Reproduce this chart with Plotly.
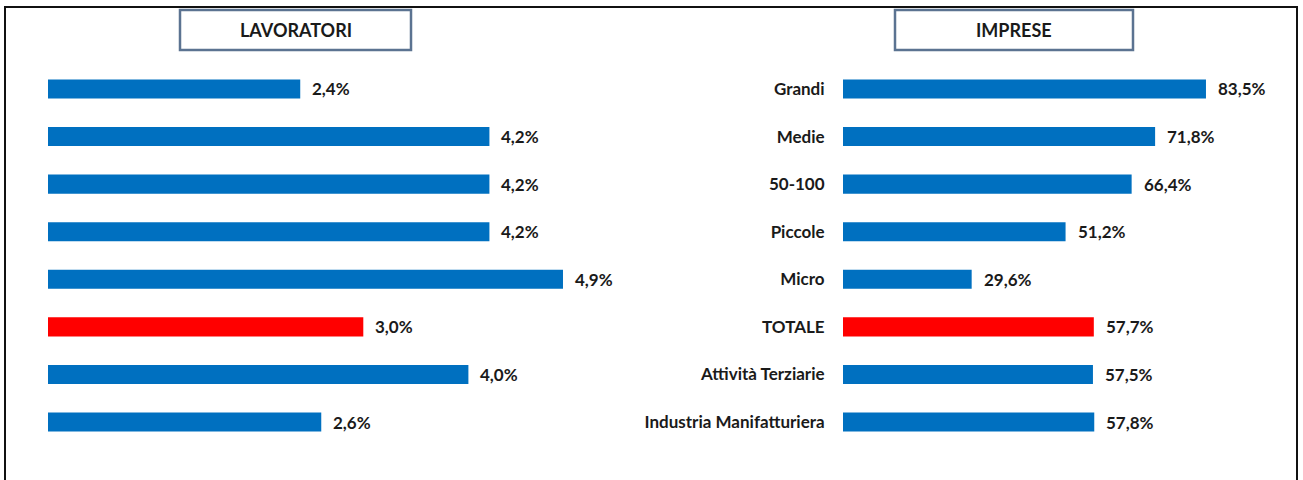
import plotly.graph_objects as go

W, H = 1303, 480

lav_values = [2.4, 4.2, 4.2, 4.2, 4.9, 3.0, 4.0, 2.6]
imp_labels = ["Grandi", "Medie", "50-100", "Piccole", "Micro", "TOTALE",
              "Attività Terziarie", "Industria Manifatturiera"]
imp_values = [83.5, 71.8, 66.4, 51.2, 29.6, 57.7, 57.5, 57.8]
lav_text = ["2,4%", "4,2%", "4,2%", "4,2%", "4,9%", "3,0%", "4,0%", "2,6%"]
imp_text = ["83,5%", "71,8%", "66,4%", "51,2%", "29,6%", "57,7%", "57,5%", "57,8%"]
highlight = "TOTALE"

BLUE = "#0070C0"
RED = "#FF0000"
FONT = "Lato"
TXT = "#1a1a1a"

colors = [RED if lab == highlight else BLUE for lab in imp_labels]


def px_x(p):
    return p / W


def px_y(p):
    return 1 - p / H


fig = go.Figure()

fig.add_trace(go.Bar(
    x=lav_values, y=imp_labels, orientation="h",
    marker=dict(color=colors, line=dict(width=0)),
    xaxis="x", yaxis="y", hoverinfo="skip"
))
fig.add_trace(go.Bar(
    x=imp_values, y=imp_labels, orientation="h",
    marker=dict(color=colors, line=dict(width=0)),
    xaxis="x2", yaxis="y2", hoverinfo="skip"
))

label_font = dict(family=FONT, size=17, color=TXT, weight="bold")

annotations = []
for lab, v, t in zip(imp_labels, lav_values, lav_text):
    annotations.append(dict(x=v, y=lab, xref="x", yref="y", text=t, showarrow=False,
                            xanchor="left", xshift=10, font=label_font))
for lab, v, t in zip(imp_labels, imp_values, imp_text):
    annotations.append(dict(x=v, y=lab, xref="x2", yref="y2", text=t, showarrow=False,
                            xanchor="left", xshift=10, font=label_font))

# titles in boxes
for title, x0, x1 in [("LAVORATORI", 180, 411), ("IMPRESE", 895, 1133)]:
    annotations.append(dict(x=px_x((x0 + x1) / 2), y=px_y(30), xref="paper", yref="paper",
                            xanchor="center", yanchor="middle",
                            text=title, showarrow=False,
                            font=dict(family=FONT, size=18, color=TXT, weight="bold")))

shapes = [
    dict(type="rect", xref="paper", yref="paper", x0=px_x(5), x1=px_x(1297),
         y0=px_y(7), y1=px_y(485), line=dict(color="#111111", width=2)),
    dict(type="rect", xref="paper", yref="paper", x0=px_x(180), x1=px_x(411),
         y0=px_y(10), y1=px_y(50), line=dict(color="#5b7391", width=2.5)),
    dict(type="rect", xref="paper", yref="paper", x0=px_x(895), x1=px_x(1133),
         y0=px_y(10), y1=px_y(50), line=dict(color="#5b7391", width=2.5)),
]

row_top, row_bot = 89 - 23.8, 422 + 23.8
ydom = [px_y(row_bot), px_y(row_top)]

fig.update_layout(
    width=W, height=H,
    margin=dict(l=0, r=0, t=0, b=0),
    paper_bgcolor="white", plot_bgcolor="white",
    showlegend=False, bargap=0.6,
    font=dict(family=FONT, size=17, color=TXT),
    xaxis=dict(domain=[px_x(48), px_x(620)], range=[0, (620 - 48) / 105.1],
               visible=False),
    yaxis=dict(domain=ydom, anchor="x", autorange="reversed", visible=False,
               categoryorder="array", categoryarray=imp_labels),
    xaxis2=dict(domain=[px_x(843), px_x(1290)], range=[0, (1290 - 843) / 4.347],
                visible=False, anchor="y2"),
    yaxis2=dict(domain=ydom, anchor="x2", autorange="reversed", showgrid=False,
                zeroline=False, showline=False, ticks="outside", ticklen=14,
                tickcolor="rgba(0,0,0,0)", tickfont=label_font,
                categoryorder="array", categoryarray=imp_labels),
    annotations=annotations,
    shapes=shapes,
)

# page has a default 8px body margin; drop it so the figure sits at the window origin
fig.write_html("out.html", config={"displayModeBar": False},
               post_script="document.body.style.margin='0';")
